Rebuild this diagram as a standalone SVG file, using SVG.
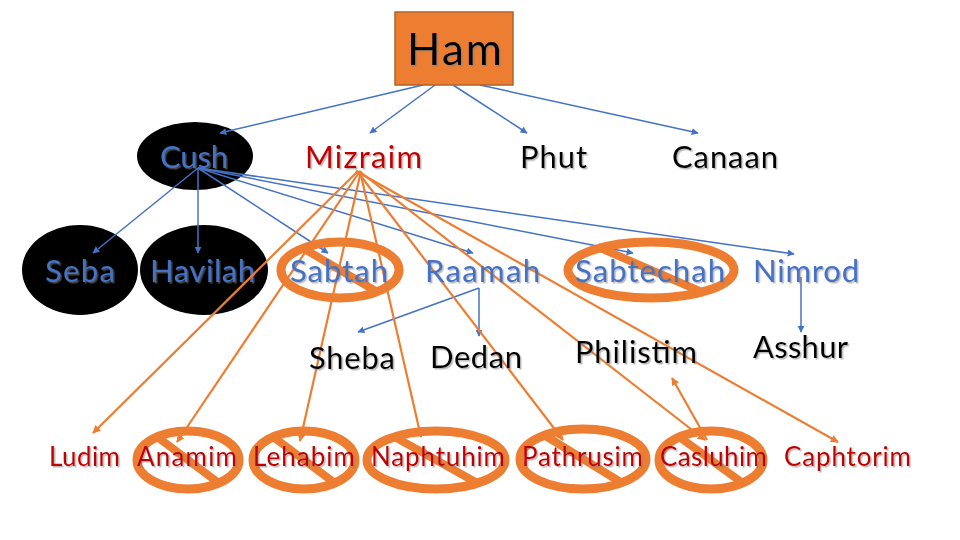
<svg xmlns="http://www.w3.org/2000/svg" width="960" height="540" viewBox="0 0 960 540">
<defs>
<style>
text{font-family:Lato,"Liberation Sans",sans-serif;}
.t1{font-size:31px;}
.t4{font-size:26px;}
.blue{fill:#4472C4;}
.red{fill:#C00000;}
.blk{fill:#000;}
.bl{stroke:#4472C4;stroke-width:1.5;fill:none;marker-end:url(#ab);}
.or{stroke:#ED7D31;stroke-width:2.2;fill:none;marker-end:url(#ao);}
.ring{fill:none;stroke:#ED7D31;stroke-width:9;}
.slash{stroke:#ED7D31;stroke-width:8;stroke-linecap:butt;}
.dark{fill:#000;}
</style>
<filter id="sh" x="-10%" y="-20%" width="130%" height="150%">
<feDropShadow dx="1.5" dy="1.5" stdDeviation="0.6" flood-color="#808080" flood-opacity="0.55"/>
</filter>
<marker id="ab" viewBox="0 0 10 10" refX="9" refY="5" markerWidth="7" markerHeight="7" markerUnits="userSpaceOnUse" orient="auto">
<path d="M0,0 L10,5 L0,10 z" fill="#4472C4"/>
</marker>
<marker id="ao" viewBox="0 0 10 10" refX="9" refY="5" markerWidth="8" markerHeight="8" markerUnits="userSpaceOnUse" orient="auto">
<path d="M0,0 L10,5 L0,10 z" fill="#ED7D31"/>
</marker>
</defs>
<rect width="960" height="540" fill="#fff"/>

<g id="node-cush">
<ellipse class="dark" cx="195" cy="156" rx="58" ry="34"/>
<text class="t1 blue" x="160" y="168" textLength="68" filter="url(#sh)">Cush</text>
</g>
<g id="node-seba">
<ellipse class="dark" cx="80" cy="270" rx="58" ry="45"/>
<text class="t1 blue" x="45" y="282" textLength="70" filter="url(#sh)">Seba</text>
</g>
<g id="node-havilah">
<ellipse class="dark" cx="204" cy="270" rx="64" ry="45"/>
<text class="t1 blue" x="150" y="282" textLength="105" filter="url(#sh)">Havilah</text>
</g>

<g id="connectors">
<line class="bl" x1="423" y1="85" x2="220" y2="133"/>
<line class="bl" x1="435" y1="85" x2="370" y2="133"/>
<line class="bl" x1="453" y1="85" x2="527" y2="133"/>
<line class="bl" x1="480" y1="85" x2="698" y2="133"/>
<line class="bl" x1="198" y1="168" x2="93" y2="253"/>
<line class="bl" x1="198" y1="168" x2="198" y2="253"/>
<line class="bl" x1="198" y1="168" x2="328" y2="253"/>
<line class="bl" x1="198" y1="168" x2="473" y2="253"/>
<line class="bl" x1="198" y1="168" x2="633" y2="253"/>
<line class="bl" x1="198" y1="168" x2="794" y2="254"/>
<line class="bl" x1="479" y1="288" x2="358" y2="332"/>
<line class="bl" x1="479" y1="288" x2="479" y2="336"/>
<line class="bl" x1="801" y1="277" x2="801" y2="332"/>
<line class="or" x1="358" y1="171" x2="93" y2="433"/>
<line class="or" x1="360" y1="171" x2="177" y2="442"/>
<line class="or" x1="361" y1="171" x2="300" y2="441"/>
<line class="or" x1="360" y1="171" x2="421" y2="437"/>
<line class="or" x1="357" y1="171" x2="563" y2="440"/>
<line class="or" x1="359" y1="171" x2="705" y2="440"/>
<line class="or" x1="356" y1="171" x2="838" y2="442"/>
<line class="or" x1="707" y1="440" x2="672" y2="378"/>
</g>

<g id="node-ham">
<rect x="395" y="12" width="118" height="73" fill="#ED7D31" stroke="#B0612A" stroke-width="1.5"/>
<text x="407" y="65" font-size="44" textLength="95" class="blk" filter="url(#sh)">Ham</text>
</g>
<g id="node-mizraim">
<text class="t1 red" x="305" y="168" textLength="117" filter="url(#sh)">Mizraim</text>
</g>
<g id="node-phut">
<text class="t1 blk" x="520" y="168" textLength="67" filter="url(#sh)">Phut</text>
</g>
<g id="node-canaan">
<text class="t1 blk" x="672" y="168" textLength="106" filter="url(#sh)">Canaan</text>
</g>
<g id="node-sabtah">
<ellipse class="ring" cx="340" cy="270" rx="59" ry="28"/>
<line class="slash" x1="301" y1="247" x2="379" y2="293"/>
<text class="t1 blue" x="290" y="282" textLength="98" filter="url(#sh)">Sabtah</text>
</g>
<g id="node-raamah">
<text class="t1 blue" x="425" y="282" textLength="115" filter="url(#sh)">Raamah</text>
</g>
<g id="node-sabtechah">
<ellipse class="ring" cx="651" cy="270" rx="83" ry="28"/>
<line class="slash" x1="598" y1="247" x2="704" y2="293"/>
<text class="t1 blue" x="575" y="282" textLength="150" filter="url(#sh)">Sabtechah</text>
</g>
<g id="node-nimrod">
<text class="t1 blue" x="753" y="282" textLength="106" filter="url(#sh)">Nimrod</text>
</g>
<g id="node-sheba">
<text class="t1 blk" x="309" y="369" textLength="86" filter="url(#sh)">Sheba</text>
</g>
<g id="node-dedan">
<text class="t1 blk" x="430" y="368" textLength="92" filter="url(#sh)">Dedan</text>
</g>
<g id="node-philistim">
<text class="t1 blk" x="575" y="363" textLength="122" filter="url(#sh)">Philistim</text>
</g>
<g id="node-asshur">
<text class="t1 blk" x="753" y="358" textLength="95" filter="url(#sh)">Asshur</text>
</g>
<g id="node-ludim">
<text class="t4 red" x="49" y="466" textLength="71" filter="url(#sh)">Ludim</text>
</g>
<g id="node-anamim">
<ellipse class="ring" cx="188" cy="460" rx="51" ry="29"/>
<line class="slash" x1="156" y1="436" x2="220" y2="484"/>
<text class="t4 red" x="137" y="466" textLength="100" filter="url(#sh)">Anamim</text>
</g>
<g id="node-lehabim">
<ellipse class="ring" cx="304" cy="460" rx="51" ry="29"/>
<line class="slash" x1="272" y1="436" x2="336" y2="484"/>
<text class="t4 red" x="253" y="466" textLength="102" filter="url(#sh)">Lehabim</text>
</g>
<g id="node-naphtuhim">
<ellipse class="ring" cx="436" cy="460" rx="69" ry="29"/>
<line class="slash" x1="393" y1="436" x2="479" y2="484"/>
<text class="t4 red" x="371" y="466" textLength="134" filter="url(#sh)">Naphtuhim</text>
</g>
<g id="node-pathrusim">
<ellipse class="ring" cx="583" cy="459" rx="63" ry="30"/>
<line class="slash" x1="544" y1="435" x2="622" y2="483"/>
<text class="t4 red" x="522" y="466" textLength="121" filter="url(#sh)">Pathrusim</text>
</g>
<g id="node-casluhim">
<ellipse class="ring" cx="711" cy="460" rx="52" ry="29"/>
<line class="slash" x1="678" y1="436" x2="744" y2="484"/>
<text class="t4 red" x="660" y="466" textLength="107" filter="url(#sh)">Casluhim</text>
</g>
<g id="node-caphtorim">
<text class="t4 red" x="784" y="466" textLength="127" filter="url(#sh)">Caphtorim</text>
</g>
</svg>
